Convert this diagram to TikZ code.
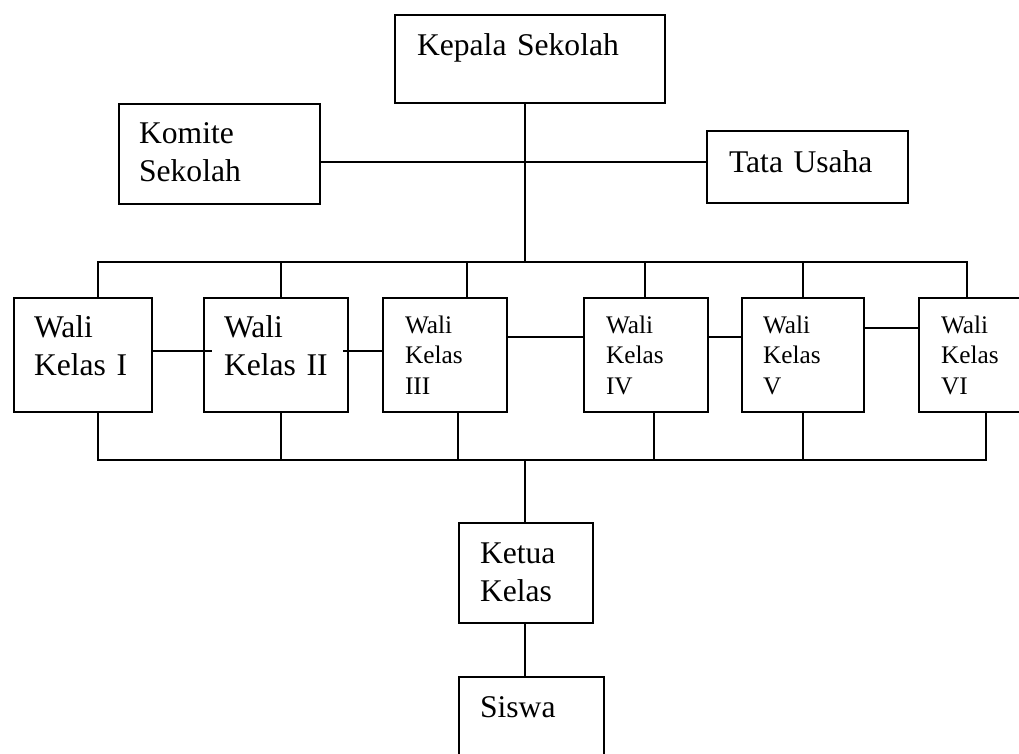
\documentclass[tikz,border=0pt]{standalone}
\usepackage{fontspec}
\setmainfont{Liberation Serif}
\usepackage{tikz}
\usetikzlibrary{positioning,calc}

\newlength\px
\setlength\px{0.38pt}
\newcommand{\bigtext}{\fontsize{31.6\px}{38\px}\selectfont}
\newcommand{\smalltext}{\fontsize{25.3\px}{30.5\px}\selectfont}

\begin{document}
\begin{tikzpicture}[x=0.38pt,y=-0.38pt,line width=0.8pt]
	\tikzstyle{box}=[draw,anchor=north west,inner ysep=0pt,align=left,font=\bigtext]
	\tikzstyle{wali}=[box,font=\smalltext,text width=80\px,inner xsep=22\px,text height=35\px,text depth=79\px]
	
	\useasboundingbox (0,0) rectangle (1019,754);
	\clip (0,0) rectangle (1019,754);
	
	\node[box,text width=226\px,inner xsep=22\px,text height=40\px,text depth=48\px](kepala) at (394,14){Kepala Sekolah};
	\node[box,text width=161\px,inner xsep=20\px,text height=39\px,text depth=61\px](komite) at (118,103){Komite\\Sekolah};
	\node[box,text width=157\px,inner xsep=22\px,text height=41\px,text depth=31\px](tatausaha) at (706,130){Tata Usaha};
	
	\node[box,text width=98\px,inner xsep=20\px,text height=39\px,text depth=75\px](wali1) at (13,297){Wali\\Kelas I};
	\node[box,text width=104\px,inner xsep=20\px,text height=39\px,text depth=75\px](wali2) at (203,297){Wali\\Kelas II};
	\node[wali](wali3) at (382,297){Wali\\Kelas\\III};
	\node[wali,text width=80\px](wali4) at (583,297){Wali\\Kelas\\IV};
	\node[wali,text width=80\px,inner xsep=21\px](wali5) at (741,297){Wali\\Kelas\\V};
	\node[wali,text width=81\px](wali6) at (918,297){Wali\\Kelas\\VI};
	
	\node[box,text width=92\px,inner xsep=21\px,text height=40\px,text depth=60\px](ketua) at (458,522){Ketua\\Kelas};
	\node[box,text width=103\px,inner xsep=21\px,text height=40\px,text depth=60\px](siswa) at (458,676){Siswa};
	
	\coordinate (mid) at (525,162);
	\coordinate (busT) at (525,262);
	\coordinate (busB) at (525,460);
	
	% atas
	\draw (kepala.south -| busT) -- (busT);
	\draw (komite.east |- mid) -- (tatausaha.west |- mid);
	\draw (wali1.north -| 98,0) |- (busT) -| (wali6.north -| 967,0);
	\draw (wali2.north -| 281,0) -- (busT -| 281,0);
	\draw (wali3.north -| 467,0) -- (busT -| 467,0);
	\draw (wali4.north -| 645,0) -- (busT -| 645,0);
	\draw (wali5.north -| 803,0) -- (busT -| 803,0);
	
	% antar wali kelas
	\draw (wali1.east |- 0,351) -- ($(wali2.west |- 0,351)+(9,0)$);
	\draw ($(wali2.east |- 0,351)-(6,0)$) -- (wali3.west |- 0,351);
	\draw (wali3.east |- 0,337) -- (wali4.west |- 0,337);
	\draw (wali4.east |- 0,337) -- (wali5.west |- 0,337);
	\draw (wali5.east |- 0,328) -- (wali6.west |- 0,328);
	
	% bawah
	\draw (wali1.south -| 98,0) |- (busB) -| (wali6.south -| 986,0);
	\draw (wali2.south -| 281,0) -- (busB -| 281,0);
	\draw (wali3.south -| 458,0) -- (busB -| 458,0);
	\draw (wali4.south -| 654,0) -- (busB -| 654,0);
	\draw (wali5.south -| 803,0) -- (busB -| 803,0);
	\draw (busB) -- (ketua.north -| busB);
	\draw (ketua.south -| busB) -- (siswa.north -| busB);
\end{tikzpicture}
\end{document}
